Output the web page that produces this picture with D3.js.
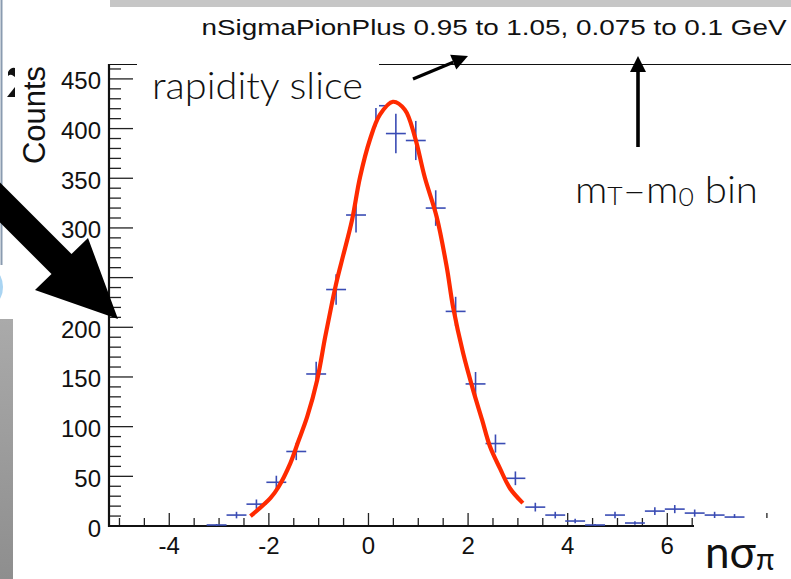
<!DOCTYPE html>
<html><head><meta charset="utf-8">
<script src="https://cdn.jsdelivr.net/npm/d3@7"></script>
<style>html,body{margin:0;padding:0;background:#fff;overflow:hidden}</style>
</head><body>
<svg id="c" width="791" height="579"></svg>
<script>
// ---- data ----
const binCenters = [-3.05,-2.65,-2.25,-1.85,-1.45,-1.05,-0.65,-0.25,0.15,0.55,0.95,1.35,1.75,2.15,2.55,2.95,3.35,3.75,4.15,4.55,4.95,5.35,5.75,6.15,6.55,6.95,7.35];
const counts     = [1,11,22,44,75,153,238,313,423,395,388,320,216,143,83,48,19,11,5,1,11,3,15,17,13,11,9];
const countErrs  = [1,3.3,4.7,6.6,8.7,12.4,15.4,17.7,20.6,19.9,19.7,17.9,14.7,12,9.1,6.9,4.4,3.3,2.2,1,3.3,1.7,3.9,4.1,3.6,3.3,3];
const binHalfWidth = 0.2;
const fitX = [-2.37,-1.97,-1.81,-1.57,-1.41,-1.23,-1.03,-0.87,-0.73,-0.63,-0.53,-0.33,-0.17,0.03,0.23,0.49,0.73,0.93,1.13,1.37,1.57,1.7,1.9,2.1,2.28,2.44,2.64,2.84,3.1];
const fitY = [10,28,39,63,85,110,147,190,225,248,268,308,351,389,414,427,419,392,351,311,261,220,174,137,107,80,58,38,23];
const xTickLabels = [-4,-2,0,2,4,6];
const yTickLabels = [0,50,100,150,200,250,300,350,400,450];
const titleText = "nSigmaPionPlus 0.95 to 1.05, 0.075 to 0.1 GeV";

const svg = d3.select("#c");
const x = d3.scaleLinear().domain([-5.19, 8.5]).range([110, 791.8]);
const y = d3.scaleLinear().domain([0, 465]).range([526, 64]);

// left-side slide decorations
svg.append("line").attr("x1",1.5).attr("x2",1.5).attr("y1",0).attr("y2",265).attr("stroke","#8a9bb0").attr("stroke-width",2);
svg.append("ellipse").attr("cx",-5).attr("cy",287).attr("rx",8).attr("ry",15).attr("fill","#a9d4f2");
const grad = svg.append("defs").append("linearGradient").attr("id","g1").attr("x1",0).attr("x2",0).attr("y1",0).attr("y2",1);
grad.append("stop").attr("offset","0%").attr("stop-color","#aaaaaa");
grad.append("stop").attr("offset","100%").attr("stop-color","#8e8e8e");
svg.append("rect").attr("x",0).attr("y",319).attr("width",13).attr("height",260).attr("fill","url(#g1)");
svg.append("path").attr("d","M8,72 Q11,67 15,68 L15,77 L12,75 Q10,74 8,76 Z").attr("fill","#111");
svg.append("path").attr("d","M7,97 L15,87 L15,97 Z").attr("fill","#111");

// top grey bar
svg.append("rect").attr("x",110).attr("y",0).attr("width",681).attr("height",7).attr("fill","#c6c6c6");

// title
svg.append("text").attr("x",201.5).attr("y",34.5).attr("font-family","Liberation Sans").attr("font-size",22.5)
  .attr("textLength",585).attr("lengthAdjust","spacingAndGlyphs").attr("fill","#111").text(titleText);

// frame top line
svg.append("line").attr("x1",109).attr("x2",791).attr("y1",64.5).attr("y2",64.5).attr("stroke","#111").attr("stroke-width",1.2);

// axes
const yMinor = d3.range(0, 461, 10);
svg.append("g").selectAll("line").data(yMinor).join("line")
  .attr("x1",109).attr("x2",d => d % 50 === 0 ? 133 : 121)
  .attr("y1",d=>y(d)).attr("y2",d=>y(d)).attr("stroke","#222").attr("stroke-width",1.3);
const xMinor = d3.range(-5, 8.01, 0.5);
svg.append("g").selectAll("line").data(xMinor).join("line")
  .attr("x1",d=>x(d)).attr("x2",d=>x(d)).attr("y1",526)
  .attr("y2",d => (Math.abs(d % 2) < 1e-9) ? 513 : 518).attr("stroke","#222").attr("stroke-width",1.3);
svg.append("line").attr("x1",109).attr("x2",109).attr("y1",64).attr("y2",527).attr("stroke","#111").attr("stroke-width",2.2);
svg.append("line").attr("x1",108).attr("x2",791).attr("y1",526).attr("y2",526).attr("stroke","#111").attr("stroke-width",2.2);

svg.append("g").selectAll("text").data(yTickLabels).join("text")
  .attr("x",101).attr("y",d=>y(d)+10.5).attr("text-anchor","end")
  .attr("font-family","Liberation Sans").attr("font-size",24).attr("fill","#111").text(d=>d);
svg.append("g").selectAll("text").data(xTickLabels).join("text")
  .attr("x",d=>x(d)).attr("y",553.5).attr("text-anchor","middle")
  .attr("font-family","Liberation Sans").attr("font-size",24).attr("fill","#111").text(d=>d);

svg.append("text").attr("transform","translate(45,115) rotate(-90)").attr("text-anchor","middle")
  .attr("font-family","Liberation Sans").attr("font-size",31).attr("fill","#111").text("Counts");

// data crosses
const pts = binCenters.map((c,i)=>({c, n:counts[i], e:countErrs[i]}));
const g = svg.append("g").attr("stroke","#3a4cb4").attr("stroke-width",1.6);
g.selectAll("line.h").data(pts).join("line").attr("class","h")
  .attr("x1",d=>x(d.c-binHalfWidth)).attr("x2",d=>x(d.c+binHalfWidth)).attr("y1",d=>y(d.n)).attr("y2",d=>y(d.n));
g.selectAll("line.v").data(pts).join("line").attr("class","v")
  .attr("x1",d=>x(d.c)).attr("x2",d=>x(d.c)).attr("y1",d=>y(d.n-d.e)).attr("y2",d=>y(d.n+d.e));

// fit curve
const fitPts = fitX.map((v,i)=>[v, fitY[i]]);
svg.append("path").datum(fitPts)
  .attr("d", d3.line().x(d=>x(d[0])).y(d=>y(d[1])).curve(d3.curveCatmullRom))
  .attr("fill","none").attr("stroke","#ff2a00").attr("stroke-width",4.2).attr("stroke-linejoin","round");

// overlay: rapidity slice box
svg.append("rect").attr("x",137).attr("y",52).attr("width",242).attr("height",56).attr("fill","#fff");
svg.append("text").attr("x",152).attr("y",99).attr("font-family","Lato").attr("font-weight",300).attr("font-size",38)
  .attr("textLength",211).attr("lengthAdjust","spacingAndGlyphs").attr("fill","#111").text("rapidity slice");

// overlay: axis title box
svg.append("rect").attr("x",694).attr("y",518).attr("width",97).attr("height",61).attr("fill","#fff");
const t2 = svg.append("text").attr("x",705).attr("y",568).attr("font-family","Lato").attr("font-weight",400).attr("font-size",44)
  .attr("fill","#111");
t2.append("tspan").text("nσ");
t2.append("tspan").attr("font-size",30).attr("dy",2).text("π");

// mT - m0 label
const t3 = svg.append("text").attr("x",575).attr("y",203).attr("font-family","Lato").attr("font-weight",300).attr("font-size",38)
  .attr("textLength",183).attr("lengthAdjust","spacingAndGlyphs").attr("fill","#111");
t3.append("tspan").text("m");
t3.append("tspan").attr("font-size",25).attr("dy",2).text("T");
t3.append("tspan").attr("dy",-2).text("–m");
t3.append("tspan").attr("font-size",25).attr("dy",3).text("0");
t3.append("tspan").attr("dy",-3).text(" bin");

// arrows
function arrow(x1,y1,x2,y2,w,hl,hw){
  const a = Math.atan2(y2-y1,x2-x1);
  const bx = x2 - hl*Math.cos(a), by = y2 - hl*Math.sin(a);
  svg.append("line").attr("x1",x1).attr("y1",y1).attr("x2",bx).attr("y2",by).attr("stroke","#000").attr("stroke-width",w);
  const px = -Math.sin(a)*hw, py = Math.cos(a)*hw;
  svg.append("path").attr("d",`M${x2},${y2}L${bx+px},${by+py}L${bx-px},${by-py}Z`).attr("fill","#000");
}
arrow(413,79,468,56,3.2,16,8);
arrow(638,147,638,56,3.6,16,8);

// big black arrow
svg.append("path").attr("d","M-20,162.5L71.5,254L88,238L118,319L35,290L51.5,274L-20,202.5Z").attr("fill","#000");
</script>
</body></html>
